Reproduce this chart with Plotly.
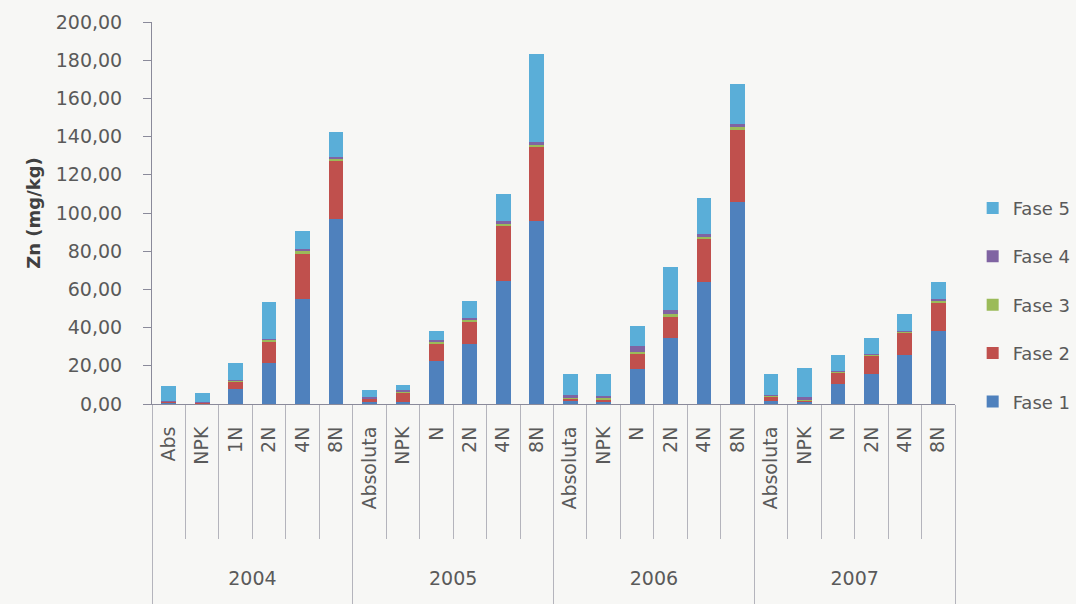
import plotly.graph_objects as go

year_labels = ["2004", "2005", "2006", "2007"]
group_treatments = [
    ["Abs", "NPK", "1N", "2N", "4N", "8N"],
    ["Absoluta", "NPK", "N", "2N", "4N", "8N"],
    ["Absoluta", "NPK", "N", "2N", "4N", "8N"],
    ["Absoluta", "NPK", "N", "2N", "4N", "8N"],
]

fase1 = [0.8, 0.5, 7.7, 21.4, 55.0, 97.0,
         1.0, 1.2, 22.3, 31.6, 64.3, 95.8,
         1.5, 1.5, 18.5, 34.8, 63.7, 105.7,
         1.5, 1.2, 10.7, 15.9, 25.9, 38.3]
fase2 = [0.4, 0.3, 4.0, 11.3, 23.6, 30.0,
         1.8, 5.0, 9.6, 11.7, 28.9, 38.5,
         1.5, 0.8, 7.5, 10.9, 22.8, 37.6,
         2.6, 0.8, 5.7, 9.3, 11.4, 14.9]
fase3 = [0.1, 0.1, 0.8, 1.0, 2.0, 1.5,
         0.2, 0.2, 0.5, 0.6, 1.0, 1.5,
         0.3, 1.0, 1.2, 1.4, 1.0, 1.5,
         0.2, 0.3, 0.5, 0.5, 0.6, 0.8]
fase4 = [0.1, 0.1, 0.3, 0.3, 0.6, 1.0,
         0.8, 1.0, 1.2, 1.1, 1.5, 1.5,
         1.5, 1.0, 3.2, 2.1, 1.5, 2.0,
         0.3, 1.5, 0.5, 0.5, 0.5, 0.8]
fase5 = [8.0, 5.0, 8.6, 19.5, 9.2, 12.9,
         3.5, 2.8, 4.7, 8.8, 14.4, 46.0,
         10.8, 11.6, 10.5, 22.3, 18.8, 20.5,
         11.0, 15.2, 8.2, 8.4, 8.6, 9.2]

series = [("Fase 1", fase1, "#4F81BD"),
          ("Fase 2", fase2, "#C0504D"),
          ("Fase 3", fase3, "#9BBB59"),
          ("Fase 4", fase4, "#8064A2"),
          ("Fase 5", fase5, "#5AAED8")]

# unique category keys (zero-width spaces keep repeated names distinct)
categories = []
ticktext = []
for gi, names in enumerate(group_treatments):
    for n in names:
        categories.append(n + "\u200b" * gi)
        ticktext.append(n)

n_per_group = len(group_treatments[0])
n_total = len(categories)
year_centers = [gi * n_per_group + (n_per_group - 1) / 2 for gi in range(len(year_labels))]
year_bounds = [gi * n_per_group - 0.5 for gi in range(len(year_labels) + 1)]

font_family = "DejaVu Sans, sans-serif"
txt = "#5a5a5a"
axis_col = "#8a8a9a"
div_col = "#b4b4bc"

fig = go.Figure()
for i, (name, vals, color) in enumerate(series):
    fig.add_trace(go.Bar(
        x=categories, y=vals, name=name,
        marker=dict(color=color, line=dict(width=0)),
        legendgroup=name, legendrank=100 - i,
    ))
# helper trace to carry the year axis
fig.add_trace(go.Scatter(x=[year_centers[0]], y=[0], xaxis="x2", mode="markers",
                         marker=dict(opacity=0), showlegend=False, hoverinfo="skip"))

fig.update_layout(
    width=1076, height=604,
    barmode="stack", bargap=0.56,
    separators=",.",
    paper_bgcolor="#f7f7f5", plot_bgcolor="#f7f7f5",
    margin=dict(l=152, r=121, t=22, b=200, autoexpand=False),
    font=dict(family=font_family, size=18, color=txt),
    showlegend=True,
    legend=dict(
        x=1.022, xanchor="left", y=0.26, yanchor="middle",
        traceorder="grouped", tracegroupgap=22,
        font=dict(size=18, color=txt),
        bgcolor="rgba(0,0,0,0)",
    ),
    yaxis=dict(
        range=[0, 200], dtick=20, tickformat=".2f",
        showgrid=False, zeroline=False,
        showline=True, linecolor=axis_col, linewidth=1,
        ticks="outside", ticklen=8, tickcolor=axis_col,
        ticklabelstandoff=17,
        tickfont=dict(size=19, color=txt),
        title=dict(text="<b>Zn (mg/kg)</b>", font=dict(size=18, color="#404040"), standoff=10),
    ),
    xaxis=dict(
        type="category",
        categoryorder="array", categoryarray=categories,
        tickmode="array", tickvals=categories, ticktext=ticktext,
        showline=True, linecolor=axis_col, linewidth=1,
        showgrid=False,
        tickangle=-90,
        ticks="outside", tickson="boundaries", ticklen=134, tickcolor=div_col,
        ticklabelstandoff=14,
        tickfont=dict(size=19, color=txt),
    ),
    xaxis2=dict(
        overlaying="x", anchor="y", side="bottom",
        range=[-0.5, n_total - 0.5],
        tickmode="array", tickvals=year_centers, ticktext=year_labels,
        ticks="", ticklabelstandoff=161,
        showline=False, showgrid=False, zeroline=False,
        tickfont=dict(size=19, color=txt),
        minor=dict(tickmode="array", tickvals=year_bounds, ticks="outside",
                   ticklen=200, tickcolor=div_col, showgrid=False),
    ),
)

fig.write_html("out.html")
